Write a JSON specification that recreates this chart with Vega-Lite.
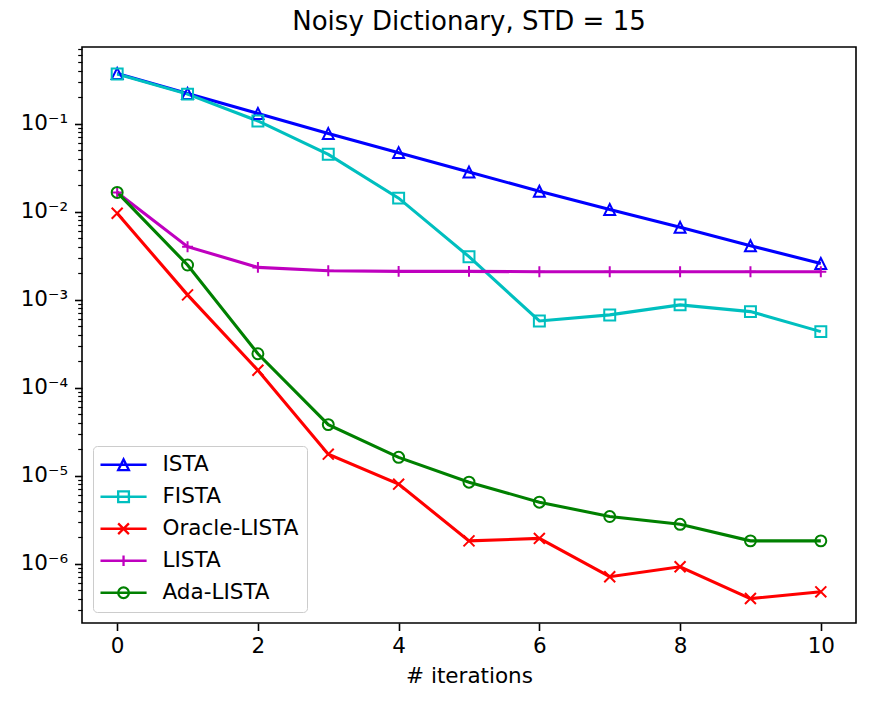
{
  "$schema": "https://vega.github.io/schema/vega-lite/v6.json",
  "autosize": {"type": "none"},
  "padding": {"left": 82, "top": 47, "right": 15, "bottom": 82},
  "width": 774,
  "height": 576,
  "title": {"text": "Noisy Dictionary, STD = 15", "fontSize": 26, "font": "DejaVu Sans", "fontWeight": "normal", "color": "black", "offset": 3},
  "data": {"values": [
    {"iteration": 0, "method": "ISTA", "error": 0.370},
    {"iteration": 1, "method": "ISTA", "error": 0.220},
    {"iteration": 2, "method": "ISTA", "error": 0.130},
    {"iteration": 3, "method": "ISTA", "error": 0.0769},
    {"iteration": 4, "method": "ISTA", "error": 0.0467},
    {"iteration": 5, "method": "ISTA", "error": 0.0281},
    {"iteration": 6, "method": "ISTA", "error": 0.0170},
    {"iteration": 7, "method": "ISTA", "error": 0.01054},
    {"iteration": 8, "method": "ISTA", "error": 0.00662},
    {"iteration": 9, "method": "ISTA", "error": 0.00409},
    {"iteration": 10, "method": "ISTA", "error": 0.00257},
    {"iteration": 0, "method": "FISTA", "error": 0.365},
    {"iteration": 1, "method": "FISTA", "error": 0.216},
    {"iteration": 2, "method": "FISTA", "error": 0.107},
    {"iteration": 3, "method": "FISTA", "error": 0.0447},
    {"iteration": 4, "method": "FISTA", "error": 0.0142},
    {"iteration": 5, "method": "FISTA", "error": 0.00307},
    {"iteration": 6, "method": "FISTA", "error": 0.000571},
    {"iteration": 7, "method": "FISTA", "error": 0.000669},
    {"iteration": 8, "method": "FISTA", "error": 0.000870},
    {"iteration": 9, "method": "FISTA", "error": 0.000729},
    {"iteration": 10, "method": "FISTA", "error": 0.000432},
    {"iteration": 0, "method": "Oracle-LISTA", "error": 0.00957},
    {"iteration": 1, "method": "Oracle-LISTA", "error": 0.00113},
    {"iteration": 2, "method": "Oracle-LISTA", "error": 0.000157},
    {"iteration": 3, "method": "Oracle-LISTA", "error": 1.75e-5},
    {"iteration": 4, "method": "Oracle-LISTA", "error": 7.98e-6},
    {"iteration": 5, "method": "Oracle-LISTA", "error": 1.81e-6},
    {"iteration": 6, "method": "Oracle-LISTA", "error": 1.93e-6},
    {"iteration": 7, "method": "Oracle-LISTA", "error": 7.08e-7},
    {"iteration": 8, "method": "Oracle-LISTA", "error": 9.2e-7},
    {"iteration": 9, "method": "Oracle-LISTA", "error": 4.0e-7},
    {"iteration": 10, "method": "Oracle-LISTA", "error": 4.77e-7},
    {"iteration": 0, "method": "LISTA", "error": 0.0165},
    {"iteration": 1, "method": "LISTA", "error": 0.00399},
    {"iteration": 2, "method": "LISTA", "error": 0.00232},
    {"iteration": 3, "method": "LISTA", "error": 0.00212},
    {"iteration": 4, "method": "LISTA", "error": 0.00209},
    {"iteration": 5, "method": "LISTA", "error": 0.00209},
    {"iteration": 6, "method": "LISTA", "error": 0.00207},
    {"iteration": 7, "method": "LISTA", "error": 0.00207},
    {"iteration": 8, "method": "LISTA", "error": 0.00207},
    {"iteration": 9, "method": "LISTA", "error": 0.00207},
    {"iteration": 10, "method": "LISTA", "error": 0.00207},
    {"iteration": 0, "method": "Ada-LISTA", "error": 0.0165},
    {"iteration": 1, "method": "Ada-LISTA", "error": 0.00247},
    {"iteration": 2, "method": "Ada-LISTA", "error": 0.000242},
    {"iteration": 3, "method": "Ada-LISTA", "error": 3.79e-5},
    {"iteration": 4, "method": "Ada-LISTA", "error": 1.61e-5},
    {"iteration": 5, "method": "Ada-LISTA", "error": 8.41e-6},
    {"iteration": 6, "method": "Ada-LISTA", "error": 4.98e-6},
    {"iteration": 7, "method": "Ada-LISTA", "error": 3.42e-6},
    {"iteration": 8, "method": "Ada-LISTA", "error": 2.79e-6},
    {"iteration": 9, "method": "Ada-LISTA", "error": 1.81e-6},
    {"iteration": 10, "method": "Ada-LISTA", "error": 1.81e-6}
  ]},
  "encoding": {
    "x": {
      "field": "iteration", "type": "quantitative",
      "scale": {"domain": [-0.5, 10.5], "nice": false, "zero": false},
      "axis": {"values": [0, 2, 4, 6, 8, 10], "title": "# iterations", "labelPadding": 5, "titlePadding": 8, "labelFlush": false}
    },
    "y": {
      "field": "error", "type": "quantitative",
      "scale": {"type": "log", "domain": [2.11e-7, 0.741], "nice": false},
      "axis": {
        "title": null,
        "values": [3e-7, 4e-7, 5e-7, 6e-7, 7e-7, 8e-7, 9e-7, 1e-6, 2e-6, 3e-6, 4e-6, 5e-6, 6e-6, 7e-6, 8e-6, 9e-6, 1e-5, 2e-5, 3e-5, 4e-5, 5e-5, 6e-5, 7e-5, 8e-5, 9e-5, 1e-4, 2e-4, 3e-4, 4e-4, 5e-4, 6e-4, 7e-4, 8e-4, 9e-4, 1e-3, 2e-3, 3e-3, 4e-3, 5e-3, 6e-3, 7e-3, 8e-3, 9e-3, 1e-2, 2e-2, 3e-2, 4e-2, 5e-2, 6e-2, 7e-2, 8e-2, 9e-2, 1e-1, 2e-1, 3e-1, 4e-1, 5e-1, 6e-1, 7e-1],
        "labelExpr": "abs(log(datum.value)/LN10 - round(log(datum.value)/LN10)) < 0.001 ? '10⁻' + ['⁰','¹','²','³','⁴','⁵','⁶','⁷','⁸'][-round(log(datum.value)/LN10)] : ''",
        "labelOverlap": false,
        "labelFlush": false,
        "labelPadding": 7,
        "tickSize": {"condition": {"test": "abs(log(datum.value)/LN10 - round(log(datum.value)/LN10)) < 0.001", "value": 7.5}, "value": 4.3},
        "tickWidth": {"condition": {"test": "abs(log(datum.value)/LN10 - round(log(datum.value)/LN10)) < 0.001", "value": 1.6}, "value": 1.2}
      }
    },
    "color": {
      "field": "method", "type": "nominal",
      "scale": {"domain": ["ISTA", "FISTA", "Oracle-LISTA", "LISTA", "Ada-LISTA"], "range": ["#0000ff", "#00bfbf", "#ff0000", "#bf00bf", "#008000"]},
      "legend": {
        "title": null,
        "orient": "bottom-left",
        "offset": 10.75,
        "padding": 8,
        "labelFontSize": 21.5,
        "labelFont": "DejaVu Sans",
        "labelColor": "black",
        "symbolSize": 115,
        "symbolStrokeWidth": 2.3,
        "labelOffset": 40,
        "rowPadding": 9,
        "fillColor": "rgba(255,255,255,0.8)",
        "strokeColor": "#cccccc",
        "cornerRadius": 4,
        "encode": {
          "symbols": {
            "update": {
              "shape": {"signal": "datum.value === 'ISTA' ? 'M-2.1,0L6.5,0M2.2,-1L3.2,1L1.2,1Z' : datum.value === 'FISTA' ? 'M-2.1,0L6.5,0M1.2,-1L3.2,-1L3.2,1L1.2,1Z' : datum.value === 'Oracle-LISTA' ? 'M-2.1,0L6.5,0M1.2,-1L3.2,1M1.2,1L3.2,-1' : datum.value === 'LISTA' ? 'M-2.1,0L6.5,0M2.2,-1L2.2,1' : 'M-2.1,0L6.5,0M3.2,0A1,1,0,1,1,1.2,0A1,1,0,1,1,3.2,0'"},
              "fill": {"value": "transparent"}
            }
          }
        }
      }
    }
  },
  "layer": [
    {"mark": {"type": "line", "strokeWidth": 3.1}},
    {
      "mark": {"type": "point", "filled": false, "strokeWidth": 2, "size": 120, "opacity": 1},
      "encoding": {
        "shape": {
          "field": "method", "type": "nominal",
          "legend": null,
          "scale": {"domain": ["Ada-LISTA", "LISTA", "Oracle-LISTA", "FISTA", "ISTA"], "range": ["M1,0A1,1,0,1,1,-1,0A1,1,0,1,1,1,0Z", "M-1,0L1,0M0,-1L0,1", "M-1,-1L1,1M-1,1L1,-1", "M-1,-1L1,-1L1,1L-1,1Z", "M0,-1L1,1L-1,1Z"]}
        }
      }
    }
  ],
  "config": {
    "font": "DejaVu Sans",
    "view": {"stroke": "black", "strokeWidth": 1.6},
    "axis": {"grid": false, "domain": false, "tickColor": "black", "labelColor": "black", "titleColor": "black", "labelFont": "DejaVu Sans", "titleFont": "DejaVu Sans", "labelFontSize": 21.5, "titleFontSize": 21.5, "titleFontWeight": "normal", "tickSize": 7.5, "tickWidth": 1.6}
  }
}
